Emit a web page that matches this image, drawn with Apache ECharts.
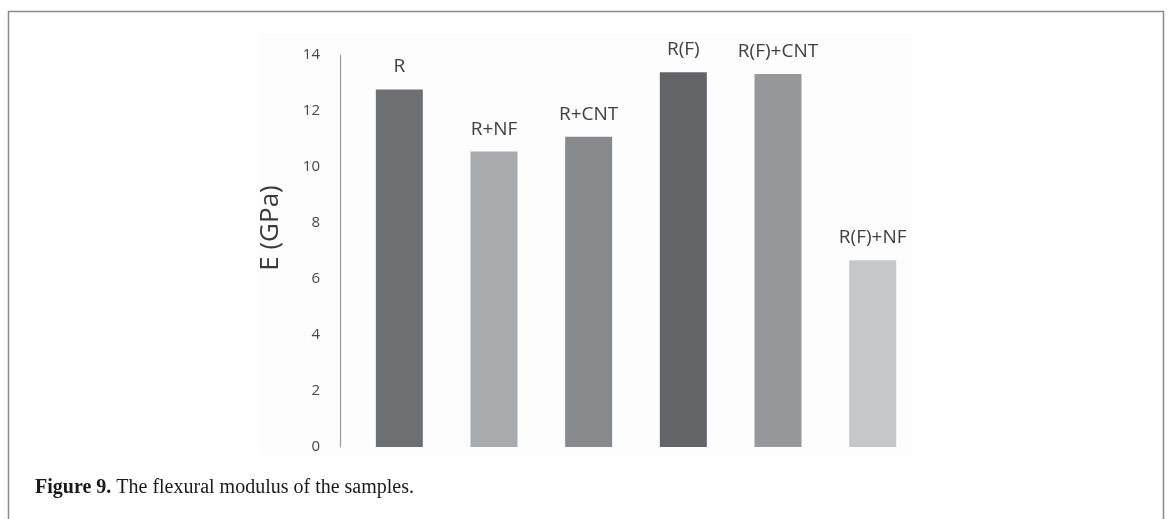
<!DOCTYPE html>
<html>
<head>
<meta charset="utf-8">
<script src="https://cdn.jsdelivr.net/npm/echarts@6/dist/echarts.min.js"></script>
<style>
  html, body { margin: 0; padding: 0; background: #fff; }
  #chart { width: 1170px; height: 519px; }
</style>
</head>
<body>
<div id="chart"></div>
<script>
// Sample names and flexural modulus (GPa)
const categories = ['R', 'R+NF', 'R+CNT', 'R(F)', 'R(F)+CNT', 'R(F)+NF'];
const modulus = [12.77, 10.55, 11.08, 13.38, 13.32, 6.67];
const barColors = ['#6e6f73', '#a9aaad', '#88898c', '#636467', '#97989b', '#c6c7c9'];
const yTicks = { min: 0, max: 14, interval: 2 };
const yAxisTitle = 'E (GPa)';

const chart = echarts.init(document.getElementById('chart'));

chart.setOption({
  animation: false,
  backgroundColor: '#ffffff',
  title: {
    left: 30,
    top: 473,
    text: '{b|Figure 9.} The flexural modulus of the samples.',
    textStyle: {
      fontFamily: 'Liberation Serif',
      fontSize: 20,
      fontWeight: 'normal',
      color: '#1a1a1a',
      rich: {
        b: { fontFamily: 'Liberation Serif', fontSize: 20, fontWeight: 'bold', color: '#1a1a1a' }
      }
    }
  },
  graphic: [
    {
      type: 'rect',
      z: -10,
      shape: { x: 259, y: 33, width: 654, height: 421 },
      style: { fill: '#fdfdfd' }
    },
    {
      type: 'rect',
      z: 10,
      shape: { x: 8.5, y: 11.5, width: 1155, height: 560 },
      style: { fill: 'none', stroke: '#8a8a8a', lineWidth: 1.5 }
    },
    {
      // rotated y-axis title
      type: 'text',
      x: 271,
      y: 228,
      rotation: Math.PI / 2,
      style: {
        text: yAxisTitle,
        fontFamily: 'Open Sans',
        fontSize: 26,
        fill: '#3a3a3a',
        align: 'center',
        verticalAlign: 'middle'
      }
    }
  ],
  grid: { left: 352, top: 55, width: 568, height: 392 },
  xAxis: {
    type: 'category',
    data: categories,
    axisLine: { show: false },
    axisTick: { show: false },
    axisLabel: { show: false }
  },
  yAxis: {
    type: 'value',
    min: yTicks.min,
    max: yTicks.max,
    interval: yTicks.interval,
    offset: 12,
    axisLine: { show: true, lineStyle: { color: '#9a9a9a', width: 1.2 } },
    axisTick: { show: false },
    splitLine: { show: false },
    axisLabel: { fontFamily: 'Open Sans', fontSize: 15, color: '#464646', margin: 20 }
  },
  series: [{
    type: 'bar',
    barWidth: 47,
    data: modulus.map((v, i) => ({ value: v, itemStyle: { color: barColors[i] } })),
    label: {
      show: true,
      position: 'top',
      distance: 13,
      formatter: p => categories[p.dataIndex],
      fontFamily: 'Open Sans',
      fontSize: 19,
      color: '#404040'
    }
  }]
});
</script>
</body>
</html>
